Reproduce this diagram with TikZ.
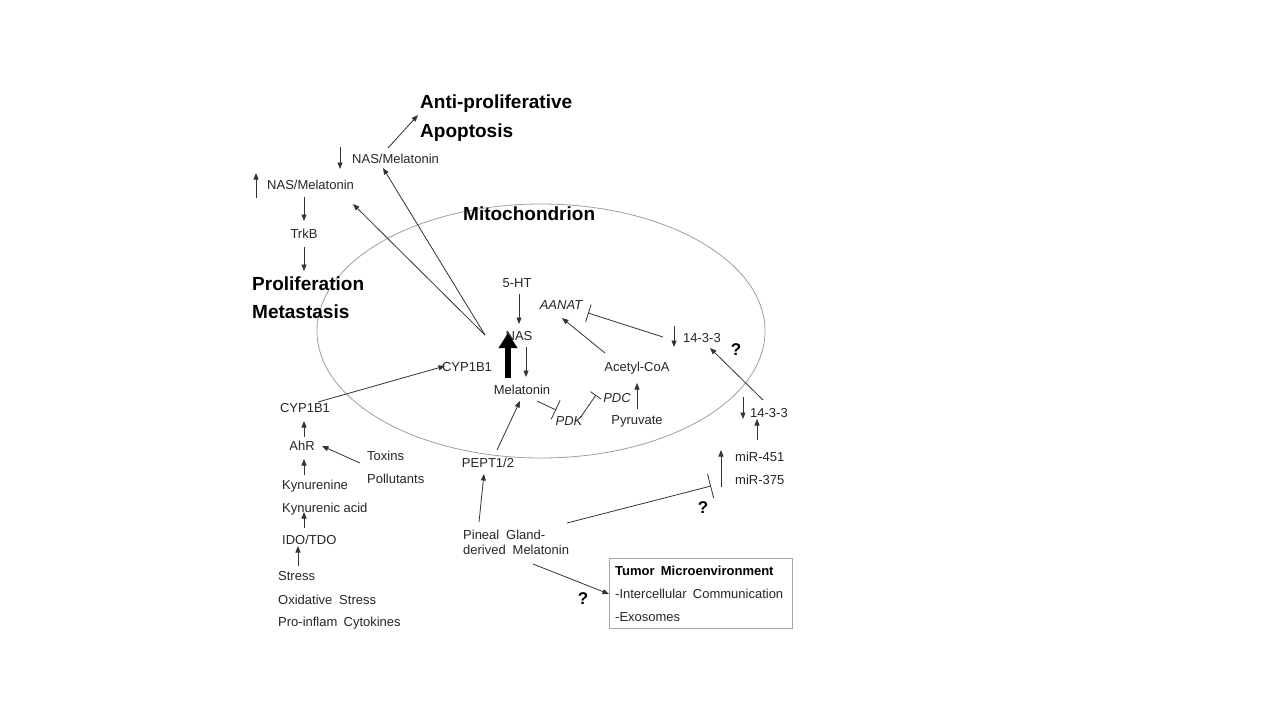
\documentclass[tikz,border=0pt]{standalone}
\usepackage{fontspec}
\setmainfont{Liberation Sans}
\usetikzlibrary{arrows.meta}
\begin{document}
\begin{tikzpicture}[x=1pt,y=-1pt,
  txt/.style={inner sep=0pt, anchor=west, font=\fontsize{13}{15}\selectfont, text=black!85},
  ctxt/.style={inner sep=0pt, anchor=center, font=\fontsize{13}{15}\selectfont, text=black!85},
  itxt/.style={inner sep=0pt, anchor=center, font=\fontsize{13}{15}\selectfont\itshape, text=black!85},
  big/.style={inner sep=0pt, anchor=west, font=\fontsize{19}{22}\selectfont\bfseries},
  qm/.style={inner sep=0pt, anchor=center, font=\fontsize{17}{20}\selectfont\bfseries},
  arr/.style={-{Triangle[width=5pt,length=6.5pt]}, line width=0.8pt, draw=black!80},
  inh/.style={-{Bar[width=#1]}, line width=0.8pt, draw=black!80},
]
\useasboundingbox (0,0) rectangle (1280,720);
\fill[white] (0,0) rectangle (1280,720);

% Mitochondrion
\draw[gray!75, line width=0.8pt] (541,331) ellipse [x radius=224, y radius=127];
\node[big] (mito) at (463,214) {Mitochondrion};

% top left
\node[big] (anti) at (420,104) {Anti-proliferative};
\node[big] (apop) at (420,133) {Apoptosis};
\node[txt] (nasA) at (352,159) {NAS/Melatonin};
\node[txt] (nasB) at (267,185) {NAS/Melatonin};
\node[ctxt] (trkb) at (304,234) {TrkB};
\node[big] (prol) at (252,284) {Proliferation};
\node[big] (meta) at (252,312) {Metastasis};

\coordinate (dA1) at (340,147); \coordinate (dA2) at (340,169);
\draw[arr] (dA1) -- (dA2);
\coordinate (uB1) at (256,198); \coordinate (uB2) at (256,173);
\draw[arr] (uB1) -- (uB2);
\coordinate (t1) at (304,197); \coordinate (t2) at (304,221);
\draw[arr] (t1) -- (t2);
\coordinate (t3) at (304,247); \coordinate (t4) at (304,271);
\draw[arr] (t3) -- (t4);
\coordinate (ap1) at (388,148); \coordinate (ap2) at (418,115);
\draw[arr] (ap1) -- (ap2);

% inside mitochondrion
\node[ctxt] (ht) at (517,283) {5-HT};
\node[ctxt] (nas) at (519,336) {NAS};
\node[ctxt] (mel) at (522,390) {Melatonin};
\node[ctxt] (cypin) at (467,367) {CYP1B1};
\node[itxt] (aanat) at (561,305) {AANAT};
\node[ctxt] (acoa) at (637,368) {Acetyl-CoA};
\node[txt] (f1) at (683,338) {14-3-3};
\node[qm] (q1) at (736,350) {?};
\node[ctxt] (pyr) at (637,421) {Pyruvate};
\node[itxt] (pdc) at (617,398) {PDC};
\node[itxt] (pdk) at (569,421) {PDK};

\coordinate (apex) at (485,335);
\coordinate (apexA) at (383,168);
\coordinate (apexB) at (353,204);
\draw[arr] (apex) -- (apexA);
\draw[arr] (apex) -- (apexB);

\coordinate (h1) at (519,294); \coordinate (h2) at (519,324);
\draw[arr] (h1) -- (h2);
\coordinate (n1) at (526,347); \coordinate (n2) at (526,377);
\draw[arr] (n1) -- (n2);
\coordinate (thk1) at (508,378); \coordinate (thk2) at (508,333);
\draw[line width=6.5pt, -{Triangle[width=18pt,length=15pt]}, black] (thk1) -- (thk2);

\coordinate (ac1) at (605,353); \coordinate (ac2) at (562,318);
\draw[arr] (ac1) -- (ac2);
\coordinate (py1) at (637,409); \coordinate (py2) at (637,383);
\draw[arr] (py1) -- (py2);
\coordinate (fd1) at (674,326); \coordinate (fd2) at (674,347);
\draw[arr] (fd1) -- (fd2);
\coordinate (ai1) at (663,337); \coordinate (ai2) at (588,313);
\draw[inh=18pt] (ai1) -- (ai2);
\coordinate (mk1) at (537,401); \coordinate (mk2) at (556,410);
\draw[inh=21pt] (mk1) -- (mk2);
\coordinate (kc1) at (580,418); \coordinate (kc2) at (596,395);
\draw[inh=13pt] (kc1) -- (kc2);

% left column
\node[ctxt] (cyp) at (305,408) {CYP1B1};
\node[ctxt] (ahr) at (302,446) {AhR};
\node[txt] (tox) at (367,456) {Toxins};
\node[txt] (pol) at (367,479) {Pollutants};
\node[txt] (kyn) at (282,486) {Kynurenine};
\node[txt] (kya) at (282,509) {Kynurenic acid};
\node[txt] (ido) at (282,540) {IDO/TDO};
\node[txt] (st1) at (278,576) {Stress};
\node[txt] (st2) at (278,600) {Oxidative\hspace{0.25em} Stress};
\node[txt] (st3) at (278,623) {Pro-inflam\hspace{0.2em} Cytokines};

\coordinate (cc1) at (318,402); \coordinate (cc2) at (445,366);
\draw[arr] (cc1) -- (cc2);
\coordinate (l1) at (304,437); \coordinate (l2) at (304,421);
\draw[arr] (l1) -- (l2);
\coordinate (l3) at (304,475); \coordinate (l4) at (304,459);
\draw[arr] (l3) -- (l4);
\coordinate (l5) at (304,528); \coordinate (l6) at (304,512);
\draw[arr] (l5) -- (l6);
\coordinate (l7) at (298,566); \coordinate (l8) at (298,546);
\draw[arr] (l7) -- (l8);
\coordinate (tx1) at (360,463); \coordinate (tx2) at (322,446);
\draw[arr] (tx1) -- (tx2);

% bottom
\node[ctxt] (pept) at (488,463) {PEPT1/2};
\node[txt] (pin1) at (463,535) {Pineal\hspace{0.25em} Gland-};
\node[txt] (pin2) at (463,550) {derived\hspace{0.25em} Melatonin};
\coordinate (pp1) at (497,450); \coordinate (pp2) at (520,401);
\draw[arr] (pp1) -- (pp2);
\coordinate (pg1) at (479,522); \coordinate (pg2) at (484,474);
\draw[arr] (pg1) -- (pg2);

\coordinate (pm1) at (567,523); \coordinate (pm2) at (711,486);
\draw[inh=25pt] (pm1) -- (pm2);
\node[qm] (q2) at (703,508) {?};

\node[txt] (m451) at (735,457) {miR-451};
\node[txt] (m375) at (735,480) {miR-375};
\coordinate (mu1) at (721,487); \coordinate (mu2) at (721,450);
\draw[arr] (mu1) -- (mu2);
\node[txt] (f2) at (750,413) {14-3-3};
\coordinate (fu1) at (757,440); \coordinate (fu2) at (757,419);
\draw[arr] (fu1) -- (fu2);
\coordinate (fdd1) at (743,397); \coordinate (fdd2) at (743,419);
\draw[arr] (fdd1) -- (fdd2);
\coordinate (ff1) at (763,400); \coordinate (ff2) at (710,348);
\draw[arr] (ff1) -- (ff2);

% tumor box
\draw[gray!70, line width=0.9pt] (609,558) rectangle (792,628);
\node[txt, font=\fontsize{13}{15}\selectfont\bfseries, text=black] (tm) at (615,571) {Tumor\hspace{0.2em} Microenvironment};
\node[txt] (ic) at (615,594) {-Intercellular\hspace{0.2em} Communication};
\node[txt] (ex) at (615,617) {-Exosomes};
\coordinate (tb1) at (533,564); \coordinate (tb2) at (609,594);
\draw[arr] (tb1) -- (tb2);
\node[qm] (q3) at (583,599) {?};
\end{tikzpicture}
\end{document}
